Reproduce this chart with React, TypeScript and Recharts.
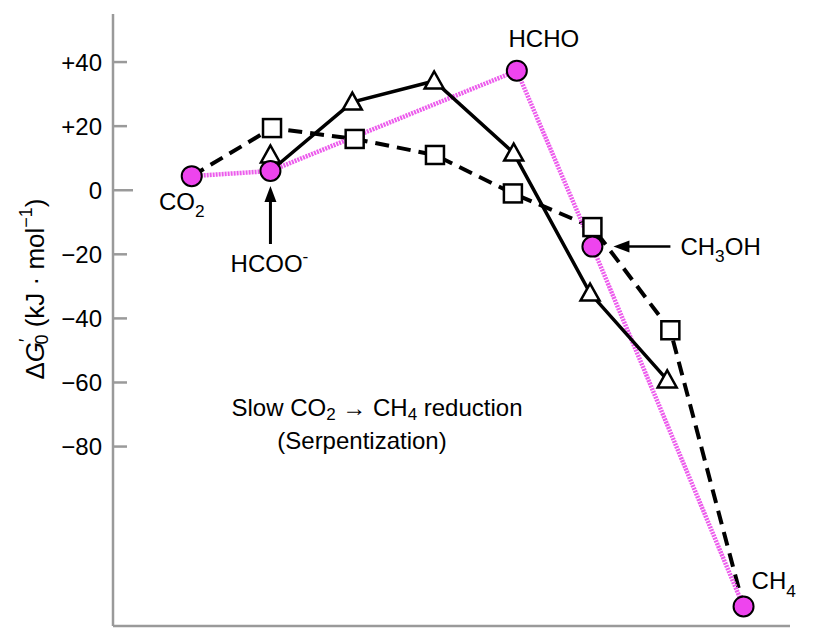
import { ComposedChart, Line, XAxis, YAxis } from "recharts";

const FONT = '"Liberation Sans", Arial, Helvetica, sans-serif';

// x = position along the reduction pathway, g = ΔG'0 in kJ/mol
const species = ["CO2", "HCOO-", "HCHO", "CH3OH", "CH4"];
const serpX = [0, 1, 4.13, 5.09, 7.01];
const serpG = [4.4, 6.0, 37.3, -17.6, -129.9];

// dashed series (squares); first/last points are the CO2 and CH4 circles
const dashX = [0, 1.02, 2.07, 3.09, 4.08, 5.09, 6.08, 7.01];
const dashG = [4.4, 19.4, 16.0, 11.0, -1.0, -11.5, -43.7, -129.9];

// solid series (triangles); starts at the HCOO- circle
const solidX = [1, 2.04, 3.08, 4.09, 5.06, 6.04];
const solidG = [6.0, 27.5, 34.1, 11.6, -32.1, -59.2];

// triangle sitting above HCOO-, not joined by the line
const loneTriX = [1];
const loneTriG = [11.0];

const yTicks = [40, 20, 0, -20, -40, -60, -80];
const yLabels = ["+40", "+20", "0", "−20", "−40", "−60", "−80"];

const toRows = (xs: number[], gs: number[]) => xs.map((x, i) => ({ x, g: gs[i] }));
const serpData = toRows(serpX, serpG);
const dashData = toRows(dashX, dashG);
const solidData = toRows(solidX, solidG);
const loneTriData = toRows(loneTriX, loneTriG);

const AXIS = "#9a9a9a";
const MAGENTA = "#ee44ee";
const MAGENTA_LINE = "#ec5cec";
const FS = 24;

// offsets of each species label from its circle
const labelPos = [
  { dx: -10, dy: 34, anchor: "middle", arrow: "" },
  { dx: -1, dy: 101, anchor: "middle", arrow: "up" },
  { dx: 27, dy: -24, anchor: "middle", arrow: "" },
  { dx: 88, dy: 8.5, anchor: "start", arrow: "left" },
  { dx: 8, dy: -17, anchor: "start", arrow: "" },
];

function chem(s: string, size: number) {
  const out: any[] = [];
  let shift = 0;
  s.split("").forEach((c, i) => {
    let target = 0;
    let fs = size;
    if (/[0-9]/.test(c)) {
      target = size * 0.3;
      fs = size * 0.72;
    } else if (c === "-") {
      target = -size * 0.42;
      fs = size * 0.72;
    }
    out.push(
      <tspan key={i} dy={target - shift} fontSize={fs}>
        {c}
      </tspan>
    );
    shift = target;
  });
  return out;
}

function YTick(props: any) {
  const { x, y, payload } = props;
  const i = yTicks.indexOf(payload.value);
  const len = payload.value === 0 ? 20 : 14;
  return (
    <g>
      <line x1={x + 11} x2={x + 11 + len} y1={y} y2={y} stroke={AXIS} strokeWidth={2.5} />
      <text x={x} y={y} dy="0.36em" textAnchor="end" fontSize={FS} fontFamily={FONT} fill="#000">
        {yLabels[i]}
      </text>
    </g>
  );
}

function SquareDot(props: any) {
  const { cx, cy, index } = props;
  if (index === 0 || index === dashData.length - 1) return <g key={`sq-${index}`} />;
  return (
    <rect key={`sq-${index}`} x={cx - 9} y={cy - 9} width={18} height={18} fill="#fff" stroke="#000" strokeWidth={2.5} />
  );
}

function TriangleDot(props: any) {
  const { cx, cy, index, skipFirst } = props;
  if (skipFirst && index === 0) return <g key={`tr-${index}`} />;
  return (
    <polygon
      key={`tr-${index}-${skipFirst ? "s" : "l"}`}
      points={`${cx},${cy - 9.5} ${cx - 9.5},${cy + 7.5} ${cx + 9.5},${cy + 7.5}`}
      fill="#fff"
      stroke="#000"
      strokeWidth={2.5}
    />
  );
}

function CircleDot(props: any) {
  const { cx, cy, index } = props;
  const p = labelPos[index];
  return (
    <g key={`ci-${index}`}>
      <circle cx={cx} cy={cy} r={10} fill={MAGENTA} stroke="#000" strokeWidth={2} />
      {p.arrow === "up" && (
        <g>
          <line x1={cx} x2={cx} y1={cy + 73} y2={cy + 26} stroke="#000" strokeWidth={3} />
          <polygon points={`${cx},${cy + 15} ${cx - 6},${cy + 31} ${cx + 6},${cy + 31}`} fill="#000" />
        </g>
      )}
      {p.arrow === "left" && (
        <g>
          <line x1={cx + 78} x2={cx + 32} y1={cy} y2={cy} stroke="#000" strokeWidth={2.5} />
          <polygon points={`${cx + 21},${cy} ${cx + 37},${cy - 6} ${cx + 37},${cy + 6}`} fill="#000" />
        </g>
      )}
      <text x={cx + p.dx} y={cy + p.dy} textAnchor={p.anchor as any} fontSize={FS} fontFamily={FONT} fill="#000">
        {chem(species[index], FS)}
      </text>
    </g>
  );
}

export default function App() {
  return (
    <ComposedChart width={800} height={630} margin={{ top: 6, right: 18, bottom: 11, left: 0 }}>
      <XAxis
        type="number"
        dataKey="x"
        domain={[-1, 7.6]}
        tick={false}
        tickLine={false}
        height={1}
        axisLine={{ stroke: AXIS, strokeWidth: 2.5 }}
      />
      <YAxis
        type="number"
        dataKey="g"
        domain={[-136, 55]}
        ticks={yTicks}
        tick={<YTick />}
        tickLine={false}
        tickSize={0}
        tickMargin={11}
        width={105}
        axisLine={{ stroke: AXIS, strokeWidth: 2.5 }}
      />

      <Line
        data={dashData}
        dataKey="g"
        type="linear"
        stroke="#000"
        strokeWidth={4}
        strokeDasharray="14 8"
        dot={(p: any) => <SquareDot {...p} />}
        activeDot={false}
        isAnimationActive={false}
      />
      <Line
        data={serpData}
        dataKey="g"
        type="linear"
        stroke={MAGENTA_LINE}
        strokeWidth={4.5}
        strokeDasharray="2 1"
        dot={false}
        activeDot={false}
        isAnimationActive={false}
      />
      <Line
        data={solidData}
        dataKey="g"
        type="linear"
        stroke="#000"
        strokeWidth={3.5}
        dot={(p: any) => <TriangleDot {...p} skipFirst />}
        activeDot={false}
        isAnimationActive={false}
      />
      <Line
        data={loneTriData}
        dataKey="g"
        type="linear"
        stroke="none"
        dot={(p: any) => <TriangleDot {...p} />}
        activeDot={false}
        isAnimationActive={false}
      />
      <Line
        data={serpData}
        dataKey="g"
        type="linear"
        stroke="none"
        dot={(p: any) => <CircleDot {...p} />}
        activeDot={false}
        isAnimationActive={false}
      />

      <text x={27} y={281} transform="rotate(-90 27 281)" textAnchor="middle" dominantBaseline="central" fontSize={26} fontFamily={FONT} fill="#000">
        Δ<tspan fontStyle="italic">G</tspan>
        <tspan dy={-9} fontSize={18}>′</tspan>
        <tspan dx={-6} dy={16} fontSize={18}>0</tspan>
        <tspan dy={-7}> (kJ · mol</tspan>
        <tspan dy={-9} fontSize={18}>−1</tspan>
        <tspan dy={9}>)</tspan>
      </text>

      <text x={369} y={408} textAnchor="middle" fontSize={FS} fontFamily={FONT} fill="#000">
        Slow CO<tspan dy={4} fontSize={17}>2</tspan>
        <tspan dy={-4}> → CH</tspan>
        <tspan dy={4} fontSize={17}>4</tspan>
        <tspan dy={-4}> reduction</tspan>
      </text>
      <text x={354} y={441} textAnchor="middle" fontSize={FS} fontFamily={FONT} fill="#000">
        (Serpentization)
      </text>
    </ComposedChart>
  );
}
